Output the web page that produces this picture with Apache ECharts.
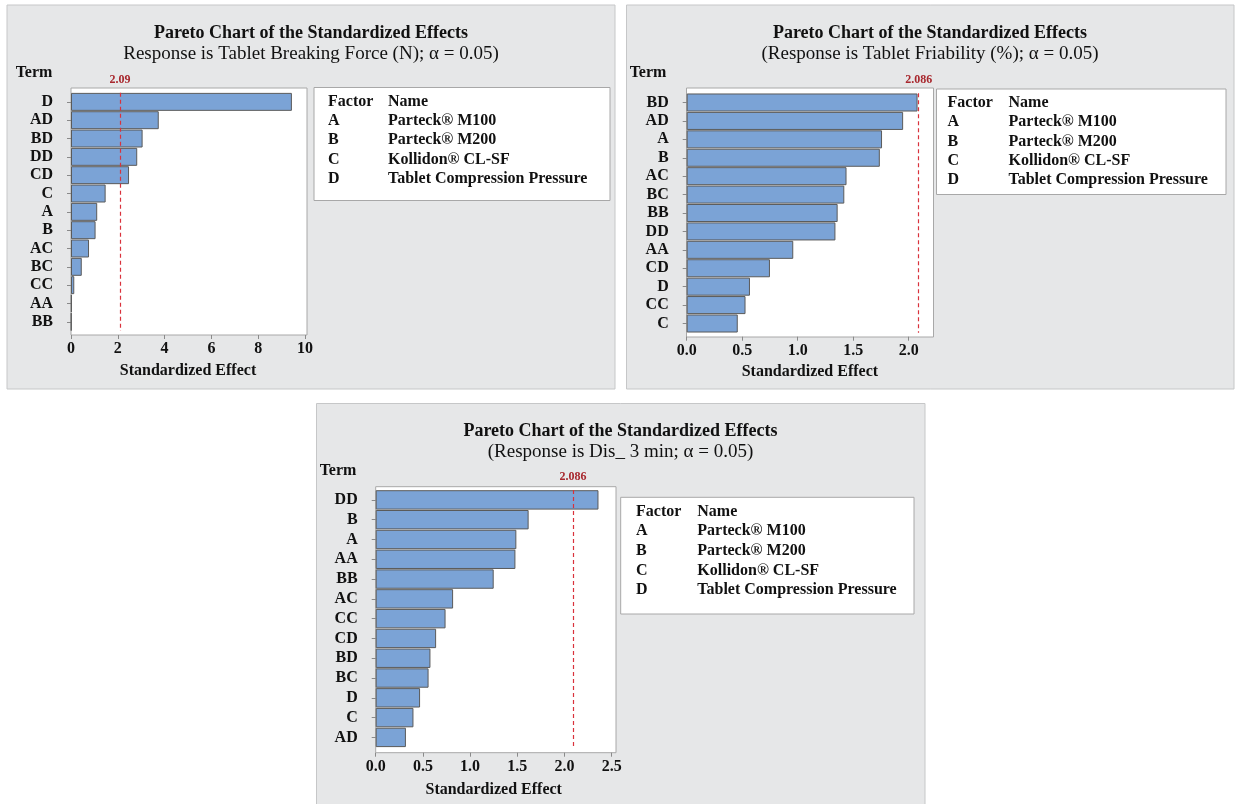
<!DOCTYPE html>
<html>
<head>
<meta charset="utf-8">
<title>Pareto Charts of the Standardized Effects</title>
<script src="https://cdn.jsdelivr.net/npm/echarts@6/dist/echarts.min.js"></script>
<style>
  html, body { margin: 0; padding: 0; background: #ffffff; }
  #chart { width: 1238px; height: 804px; }
</style>
</head>
<body>
<div id="chart"></div>
<script>
// Tablet breaking force
const termsBreaking = ['D', 'AD', 'BD', 'DD', 'CD', 'C', 'A', 'B', 'AC', 'BC', 'CC', 'AA', 'BB'];
const effectsBreaking = [9.44, 3.75, 3.06, 2.83, 2.48, 1.48, 1.12, 1.05, 0.77, 0.46, 0.14, 0.03, 0.02];
const ticksBreaking = [0, 2, 4, 6, 8, 10];
const thresholdBreaking = 2.09;

// Tablet friability
const termsFriability = ['BD', 'AD', 'A', 'B', 'AC', 'BC', 'BB', 'DD', 'AA', 'CD', 'D', 'CC', 'C'];
const effectsFriability = [2.08, 1.95, 1.76, 1.74, 1.44, 1.42, 1.36, 1.34, 0.96, 0.75, 0.57, 0.53, 0.46];
const ticksFriability = [0, 0.5, 1.0, 1.5, 2.0];
const thresholdFriability = 2.086;

// Disintegration at 3 min
const termsDis = ['DD', 'B', 'A', 'AA', 'BB', 'AC', 'CC', 'CD', 'BD', 'BC', 'D', 'C', 'AD'];
const effectsDis = [2.36, 1.62, 1.49, 1.48, 1.25, 0.82, 0.74, 0.64, 0.58, 0.56, 0.47, 0.40, 0.32];
const ticksDis = [0, 0.5, 1.0, 1.5, 2.0, 2.5];
const thresholdDis = 2.086;

// Factor key shared by all three charts
const factorCodes = ['A', 'B', 'C', 'D'];
const factorNames = ['Parteck\u00AE M100', 'Parteck\u00AE M200', 'Kollidon\u00AE CL-SF', 'Tablet Compression Pressure'];

const titleText = 'Pareto Chart of the Standardized Effects';
const subtitles = [
  'Response is Tablet Breaking Force (N); \u03B1 = 0.05)',
  '(Response is Tablet Friability (%); \u03B1 = 0.05)',
  '(Response is Dis_ 3 min; \u03B1 = 0.05)'
];

const FONT = '"Liberation Serif", "Times New Roman", serif';
const INK = '#111111';

// Layout of each panel (pixels)
const panels = [
  { bg: [7, 5, 608, 384], cx: 311, titleTop: 23, term: [34, 72.5],
    frame: [71, 88, 236, 247], grid: { left: 71, top: 92.7, width: 234, height: 238.3 }, axisOffset: 4, nameGap: 28,
    max: 10, decimals: 0, legend: [314, 87.5, 296, 113], legendRows: { fx: 328, nx: 388, y0: 101.5, dy: 19.3 } },
  { bg: [626.5, 5, 607.5, 384], cx: 930, titleTop: 23, term: [648, 73],
    frame: [686.5, 88, 247, 249], grid: { left: 686.7, top: 93.3, width: 246.4, height: 239.4 }, axisOffset: 4, nameGap: 27,
    max: 2.22, decimals: 1, legend: [936.5, 89, 289.5, 105.5], legendRows: { fx: 947.5, nx: 1008.5, y0: 103, dy: 19.3 } },
  { bg: [316.5, 403.5, 608.5, 401], cx: 620.5, titleTop: 421, term: [338, 470.5],
    frame: [375.7, 486.7, 240.3, 266], grid: { left: 375.7, top: 490, width: 236, height: 257.3 }, axisOffset: 5.4, nameGap: 29,
    max: 2.5, decimals: 1, legend: [620.7, 497.3, 293.3, 116.7], legendRows: { fx: 636, nx: 697.3, y0: 511.5, dy: 19.7 } }
];

const datasets = [
  { terms: termsBreaking, values: effectsBreaking, ticks: ticksBreaking, threshold: thresholdBreaking },
  { terms: termsFriability, values: effectsFriability, ticks: ticksFriability, threshold: thresholdFriability },
  { terms: termsDis, values: effectsDis, ticks: ticksDis, threshold: thresholdDis }
];

const grids = [], xAxes = [], yAxes = [], series = [], titles = [], graphics = [];

panels.forEach((p, i) => {
  const d = datasets[i];

  // grey panel background and white plot frame
  graphics.push({ type: 'rect', z: -20, silent: true,
    shape: { x: p.bg[0], y: p.bg[1], width: p.bg[2], height: p.bg[3] },
    style: { fill: '#e6e7e8', stroke: '#c6c7c8', lineWidth: 1 } });
  graphics.push({ type: 'rect', z: -19, silent: true,
    shape: { x: p.frame[0], y: p.frame[1], width: p.frame[2], height: p.frame[3] },
    style: { fill: '#ffffff', stroke: '#a8a8a8', lineWidth: 1 } });

  // factor key box
  graphics.push({ type: 'rect', z: -19, silent: true,
    shape: { x: p.legend[0], y: p.legend[1], width: p.legend[2], height: p.legend[3] },
    style: { fill: '#ffffff', stroke: '#a8a8a8', lineWidth: 1 } });
  const r = p.legendRows;
  const keyText = (x, y, t) => ({ type: 'text', z: 10, silent: true, x: x, y: y,
    style: { text: t, font: 'bold 16px ' + FONT, fill: INK, textVerticalAlign: 'middle', textAlign: 'left' } });
  graphics.push(keyText(r.fx, r.y0, 'Factor'));
  graphics.push(keyText(r.nx, r.y0, 'Name'));
  factorCodes.forEach((c, k) => {
    graphics.push(keyText(r.fx, r.y0 + r.dy * (k + 1), c));
    graphics.push(keyText(r.nx, r.y0 + r.dy * (k + 1), factorNames[k]));
  });

  // "Term" heading over the category labels
  graphics.push({ type: 'text', z: 10, silent: true, x: p.term[0], y: p.term[1],
    style: { text: 'Term', font: 'bold 16px ' + FONT, fill: INK, textAlign: 'center', textVerticalAlign: 'middle' } });

  titles.push({
    text: titleText, subtext: subtitles[i],
    left: p.cx, top: p.titleTop, textAlign: 'center', itemGap: 0, padding: 0,
    textStyle: { fontFamily: FONT, fontSize: 18, fontWeight: 'bold', color: INK, lineHeight: 21 },
    subtextStyle: { fontFamily: FONT, fontSize: 19, fontWeight: 'normal', color: INK, lineHeight: 21 }
  });

  grids.push(Object.assign({ containLabel: false }, p.grid));

  xAxes.push({
    type: 'value', gridIndex: i, min: 0, max: p.max, offset: p.axisOffset,
    name: 'Standardized Effect', nameLocation: 'middle', nameGap: p.nameGap,
    nameTextStyle: { fontFamily: FONT, fontSize: 16, fontWeight: 'bold', color: INK },
    splitLine: { show: false },
    axisLine: { show: false },
    axisTick: { show: true, length: 4, inside: false, customValues: d.ticks, lineStyle: { color: '#8a8a8a' } },
    axisLabel: { margin: 6, customValues: d.ticks, fontFamily: FONT, fontSize: 16, fontWeight: 'bold', color: INK,
      formatter: v => Number(v).toFixed(p.decimals) }
  });

  yAxes.push({
    type: 'category', gridIndex: i, data: d.terms, inverse: true,
    axisLine: { show: false },
    axisTick: { show: true, alignWithLabel: true, interval: 0, length: 4, lineStyle: { color: '#8a8a8a' } },
    axisLabel: { interval: 0, margin: 18, fontFamily: FONT, fontSize: 16, fontWeight: 'bold', color: INK },
    splitLine: { show: false }
  });

  series.push({
    type: 'bar', xAxisIndex: i, yAxisIndex: i, data: d.values,
    barCategoryGap: '2%',
    itemStyle: { color: '#7ba3d6', borderColor: '#5a5a5a', borderWidth: 1 },
    emphasis: { disabled: true },
    markLine: {
      silent: true, symbol: ['none', 'none'],
      lineStyle: { color: '#d9323c', type: [4, 3], width: 1.2 },
      label: { show: true, position: 'start', distance: 7, formatter: String(d.threshold),
        fontFamily: FONT, fontSize: 12, fontWeight: 'bold', color: '#a8282e' },
      emphasis: { disabled: true },
      data: [{ xAxis: d.threshold }]
    }
  });
});

const chart = echarts.init(document.getElementById('chart'), null, { renderer: 'canvas' });
chart.setOption({
  animation: false,
  backgroundColor: '#ffffff',
  title: titles,
  grid: grids,
  xAxis: xAxes,
  yAxis: yAxes,
  series: series,
  graphic: { elements: graphics }
});
</script>
</body>
</html>
